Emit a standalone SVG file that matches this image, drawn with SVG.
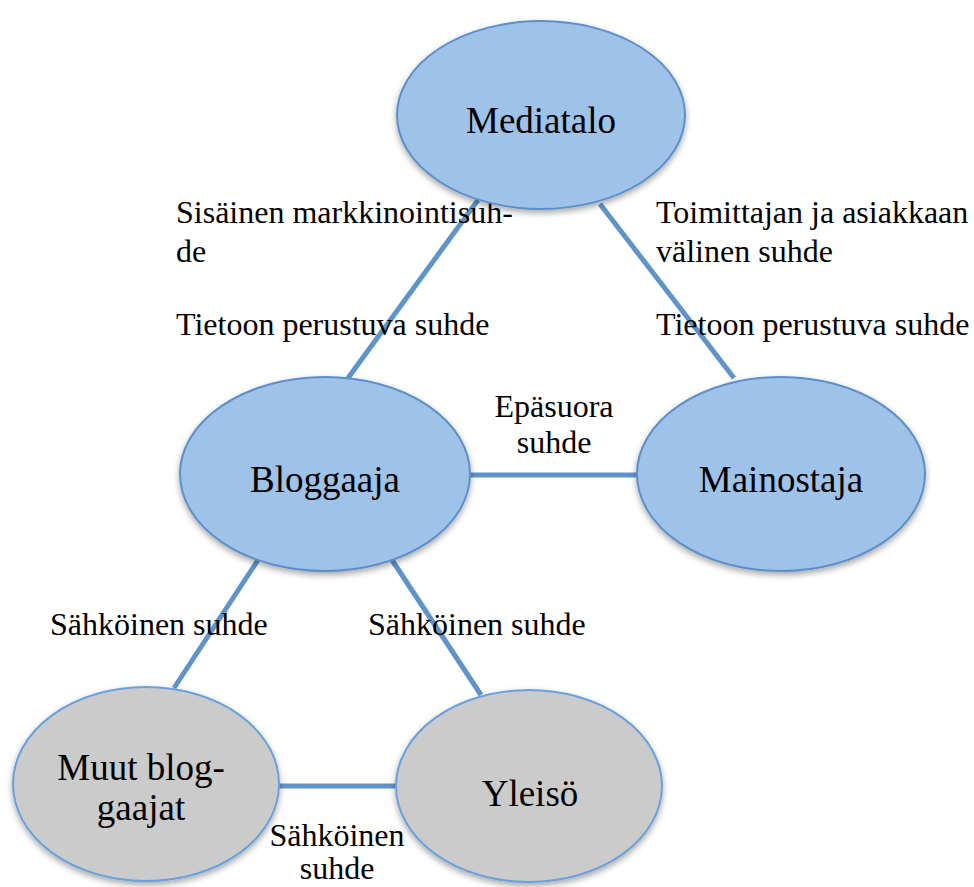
<svg xmlns="http://www.w3.org/2000/svg" width="974" height="887" viewBox="0 0 974 887">
<style>
  .bg{fill:#ffffff}
  .blue{fill:#9fc2e8;stroke:#5b8fcb;stroke-width:2}
  .gray{fill:#cbcbcb;stroke:#6aa1dd;stroke-width:2}
  .conn{stroke:#5f93c9;stroke-width:5;fill:none}
  .node{font-family:'Liberation Serif','Times New Roman',serif;font-size:37px;text-anchor:middle;fill:#000}
  .lbl{font-family:'Liberation Serif','Times New Roman',serif;font-size:32px;fill:#000}
  .c{text-anchor:middle}
</style>
<defs>
  <filter id="sh" x="-10%" y="-10%" width="120%" height="130%">
    <feDropShadow dx="0" dy="3" stdDeviation="3" flood-color="#000" flood-opacity="0.35"/>
  </filter>
</defs>
<rect class="bg" x="0" y="0" width="974" height="887"/>
<g id="connectors">
  <line class="conn" x1="478" y1="200" x2="348" y2="378"/>
  <line class="conn" x1="600" y1="204" x2="734" y2="378"/>
  <line class="conn" x1="470" y1="475" x2="638" y2="475"/>
  <line class="conn" x1="258" y1="560" x2="174" y2="688"/>
  <line class="conn" x1="392" y1="560" x2="481" y2="695"/>
  <line class="conn" x1="277" y1="786" x2="397" y2="786"/>
</g>
<g id="labels">
  <text class="lbl" x="176" y="223">Sisäinen markkinointisuh-</text>
  <text class="lbl" x="176" y="262">de</text>
  <text class="lbl" x="176" y="335">Tietoon perustuva suhde</text>
  <text class="lbl" x="656" y="223">Toimittajan ja asiakkaan</text>
  <text class="lbl" x="656" y="262">välinen suhde</text>
  <text class="lbl" x="656" y="335">Tietoon perustuva suhde</text>
  <text class="lbl c" x="554" y="417">Epäsuora</text>
  <text class="lbl c" x="554" y="453">suhde</text>
  <text class="lbl" x="50" y="635">Sähköinen suhde</text>
  <text class="lbl" x="368" y="635">Sähköinen suhde</text>
  <text class="lbl c" x="337" y="846">Sähköinen</text>
  <text class="lbl c" x="337" y="879">suhde</text>
</g>
<g id="mediatalo">
  <ellipse class="blue" filter="url(#sh)" cx="541" cy="115" rx="144" ry="94"/>
  <text class="node" x="541" y="133">Mediatalo</text>
</g>
<g id="bloggaaja">
  <ellipse class="blue" filter="url(#sh)" cx="325" cy="474" rx="145" ry="97"/>
  <text class="node" x="325" y="492">Bloggaaja</text>
</g>
<g id="mainostaja">
  <ellipse class="blue" filter="url(#sh)" cx="781" cy="474" rx="144" ry="97"/>
  <text class="node" x="781" y="492">Mainostaja</text>
</g>
<g id="muut-bloggaajat">
  <ellipse class="gray" filter="url(#sh)" cx="146" cy="784" rx="133" ry="97"/>
  <text class="node" x="141" y="780">Muut blog-</text>
  <text class="node" x="141" y="820">gaajat</text>
</g>
<g id="yleiso">
  <ellipse class="gray" filter="url(#sh)" cx="529" cy="786" rx="133" ry="96"/>
  <text class="node" x="530" y="806">Yleisö</text>
</g>
</svg>
